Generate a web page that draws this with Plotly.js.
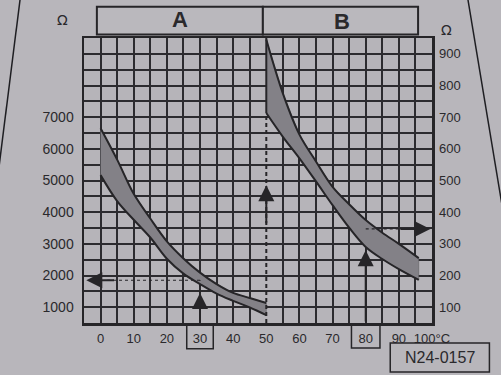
<!DOCTYPE html>
<html>
<head>
<meta charset="utf-8">
<script src="https://cdn.plot.ly/plotly-3.0.1.min.js"></script>
<style>html,body{margin:0;padding:0;background:#b7b5ba;}#chart{width:501px;height:375px;}</style>
</head>
<body>
<div id="chart"></div>
<script>
// ---- data ----
// Sensor A (left scale, ohm)
const tempA = [0, 5, 10, 15, 20, 25, 30, 35, 40, 45, 50];
const ohmA_high = [6650, 5660, 4580, 3800, 3080, 2540, 2090, 1730, 1450, 1290, 1130];
const ohmA_low  = [5170, 4350, 3760, 3200, 2530, 2060, 1730, 1430, 1200, 990, 750];
// Sensor B (right scale, ohm)
const tempB = [50, 55, 60, 65, 70, 75, 80, 85, 90, 96];
const ohmB_high = [945, 775, 645, 560, 480, 425, 375, 335, 300, 255];
const ohmB_low  = [713, 638, 570, 497, 422, 351, 290, 252, 220, 186];
// axes
const tempTicks = [0, 10, 20, 30, 40, 50, 60, 70, 80, 90, 100];
const tempLabels = ['0', '10', '20', '30', '40', '50', '60', '70', '80', '90', '100°C'];
const ohmLeftTicks = [1000, 2000, 3000, 4000, 5000, 6000, 7000];
const ohmRightTicks = [100, 200, 300, 400, 500, 600, 700, 800, 900];
const panelLabels = ['A', 'B'];
const figureCode = 'N24-0157';
// example readings marked with arrows
const exampleA = {temp: 30, ohm: 1850};
const exampleB = {temp: 80, ohm: 347};

const INK = '#262528';
const GRID = '#2c2b2f';
const BAND = '#838187';
const PAGE = '#b8b6bb';
const CELL = '#b6b4b9';

function polygon(t, hi, lo) {
  return {x: t.concat(t.slice().reverse()), y: hi.concat(lo.slice().reverse())};
}
const pA = polygon(tempA, ohmA_high, ohmA_low);
const pB = polygon(tempB, ohmB_high, ohmB_low);

const traces = [
  {x: pA.x, y: pA.y, type: 'scatter', mode: 'lines', fill: 'toself', fillcolor: BAND,
   line: {width: 0.5, color: '#555458'}, hoverinfo: 'skip', showlegend: false},
  {x: tempA, y: ohmA_high, type: 'scatter', mode: 'lines', line: {color: INK, width: 2, shape: 'spline'}, showlegend: false},
  {x: tempA, y: ohmA_low, type: 'scatter', mode: 'lines', line: {color: INK, width: 2, shape: 'spline'}, showlegend: false},
  {x: pB.x, y: pB.y, type: 'scatter', mode: 'lines', fill: 'toself', fillcolor: BAND, yaxis: 'y2',
   line: {width: 0.5, color: '#555458'}, hoverinfo: 'skip', showlegend: false},
  {x: tempB, y: ohmB_high, type: 'scatter', mode: 'lines', yaxis: 'y2', line: {color: INK, width: 2, shape: 'spline'}, showlegend: false},
  {x: tempB, y: ohmB_low, type: 'scatter', mode: 'lines', yaxis: 'y2', line: {color: INK, width: 2, shape: 'spline'}, showlegend: false}
];

const FONT = 'Liberation Sans, Arial, sans-serif';
const tickFont = {family: FONT, size: 13, color: '#2a292c'};

// vertical grid every 5 °C, except at 50 °C where the chart draws a dashed guide instead
const xGrid = [];
for (let t = 0; t < 100; t += 5) { if (t !== 50) xGrid.push(t); }

const shapes = [
  // panel header boxes
  {type: 'rect', xref: 'paper', yref: 'paper', x0: 0.037, x1: 0.514, y0: 1.012, y1: 1.11, line: {color: INK, width: 2}, fillcolor: '#bab8bd'},
  {type: 'rect', xref: 'paper', yref: 'paper', x0: 0.514, x1: 0.96, y0: 1.012, y1: 1.11, line: {color: INK, width: 2}, fillcolor: '#bab8bd'},
  // boxes around example temperatures
  {type: 'rect', xref: 'x', yref: 'paper', x0: exampleA.temp - 4, x1: exampleA.temp + 4, y0: -0.09, y1: -0.008, line: {color: INK, width: 1.5}},
  {type: 'rect', xref: 'x', yref: 'paper', x0: exampleB.temp - 4.3, x1: exampleB.temp + 4.3, y0: -0.088, y1: -0.005, line: {color: INK, width: 1.5}},
  // figure code box
  {type: 'rect', xref: 'paper', yref: 'paper', x0: 0.88, x1: 1.165, y0: -0.172, y1: -0.07, line: {color: INK, width: 1.5}},
  // 50 °C: dashed guide below band B, solid edge along band B
  {type: 'line', xref: 'x', yref: 'y', x0: 50, x1: 50, y0: 500, y1: 7130, line: {color: INK, width: 2, dash: '4px,3px'}},
  {type: 'line', xref: 'x', yref: 'y2', x0: 50, x1: 50, y0: ohmB_low[0], y1: 950, line: {color: INK, width: 2}},
  // reading A: vertical then horizontal to the left scale
  {type: 'line', xref: 'x', yref: 'y', x0: exampleA.temp, x1: exampleA.temp, y0: 1450, y1: exampleA.ohm, line: {color: INK, width: 1.2, dash: '3px,3px'}},
  {type: 'line', xref: 'x', yref: 'y', x0: exampleA.temp, x1: 2, y0: exampleA.ohm, y1: exampleA.ohm, line: {color: INK, width: 1.2, dash: '3px,3px'}},
  // reading B: horizontal to the right scale
  {type: 'line', xref: 'x', yref: 'y2', x0: exampleB.temp, x1: 90, y0: exampleB.ohm, y1: exampleB.ohm, line: {color: INK, width: 1.2, dash: '3px,3px'}},
  // photo page edges
  {type: 'line', xref: 'paper', yref: 'paper', x0: (20 - 84) / 348, y0: (323 - 0) / 285, x1: (-2 - 84) / 348, y1: (323 - 175) / 285, line: {color: '#1e1e22', width: 1.5}},
  {type: 'line', xref: 'paper', yref: 'paper', x0: (468 - 84) / 348, y0: (323 - 0) / 285, x1: (502 - 84) / 348, y1: (323 - 205) / 285, line: {color: '#1e1e22', width: 1.5}}
];

const arrow = {showarrow: true, arrowhead: 2, arrowsize: 1.6, arrowwidth: 2, arrowcolor: INK, text: '', axref: 'x'};
const txt = {showarrow: false, xanchor: 'center', yanchor: 'middle', xref: 'paper', yref: 'paper'};
const annotations = [
  Object.assign({}, txt, {text: '<b>' + panelLabels[0] + '</b>', x: 0.275, y: 1.064, font: {family: FONT, size: 22, color: '#2a292c'}}),
  Object.assign({}, txt, {text: '<b>' + panelLabels[1] + '</b>', x: 0.74, y: 1.058, font: {family: FONT, size: 22, color: '#2a292c'}}),
  Object.assign({}, txt, {text: 'Ω', x: -0.063, y: 1.063, font: {family: 'DejaVu Sans, sans-serif', size: 14, color: '#2a292c'}}),
  Object.assign({}, txt, {text: 'Ω', x: 1.043, y: 1.028, font: {family: 'DejaVu Sans, sans-serif', size: 14, color: '#2a292c'}}),
  Object.assign({}, txt, {text: figureCode, x: 1.022, y: -0.121, font: {family: FONT, size: 16, color: '#2a292c'}}),
  // arrows
  Object.assign({}, arrow, {xref: 'x', yref: 'y', ayref: 'y', x: exampleA.temp, y: 1450, ax: exampleA.temp, ay: 500}),
  Object.assign({}, arrow, {xref: 'x', yref: 'y', ayref: 'y', x: -4.3, y: exampleA.ohm, ax: 4.5, ay: exampleA.ohm}),
  Object.assign({}, arrow, {xref: 'x', yref: 'y', ayref: 'y', x: 50, y: 4850, ax: 50, ay: 3600}),
  Object.assign({}, arrow, {xref: 'x', yref: 'y2', ayref: 'y2', x: exampleB.temp, y: 280, ax: exampleB.temp, ay: 50}),
  Object.assign({}, arrow, {xref: 'x', yref: 'y2', ayref: 'y2', x: 99.5, y: exampleB.ohm, ax: 90, ay: exampleB.ohm})
];

const layout = {
  width: 501, height: 375,
  margin: {l: 84, r: 69, t: 38, b: 52},
  paper_bgcolor: PAGE, plot_bgcolor: CELL,
  showlegend: false,
  xaxis: {
    range: [-5, 100], tickmode: 'array', tickvals: tempTicks, ticktext: tempLabels,
    showgrid: false, zeroline: false,
    minor: {tickmode: 'array', tickvals: xGrid, showgrid: true, gridcolor: GRID, gridwidth: 2, ticks: ''},
    showline: true, mirror: true, linecolor: INK, linewidth: 2.5,
    ticks: '', ticklabelstandoff: 2, tickfont: tickFont, fixedrange: true
  },
  yaxis: {
    range: [500, 9500], tickmode: 'array', tickvals: ohmLeftTicks,
    showgrid: true, gridcolor: GRID, gridwidth: 2, zeroline: false,
    minor: {dtick: 500, tick0: 0, showgrid: true, gridcolor: GRID, gridwidth: 2},
    showline: true, mirror: true, linecolor: INK, linewidth: 2.5,
    ticks: '', ticklabelstandoff: 5, tickfont: {family: FONT, size: 14, color: '#2a292c'}, fixedrange: true
  },
  yaxis2: {
    range: [50, 950], overlaying: 'y', side: 'right', tickmode: 'array', tickvals: ohmRightTicks,
    showgrid: false, zeroline: false, showline: false,
    ticks: '', ticklabelstandoff: 6, tickfont: tickFont, fixedrange: true
  },
  shapes: shapes,
  annotations: annotations
};

Plotly.newPlot('chart', traces, layout, {displayModeBar: false, staticPlot: true});
</script>
</body>
</html>
